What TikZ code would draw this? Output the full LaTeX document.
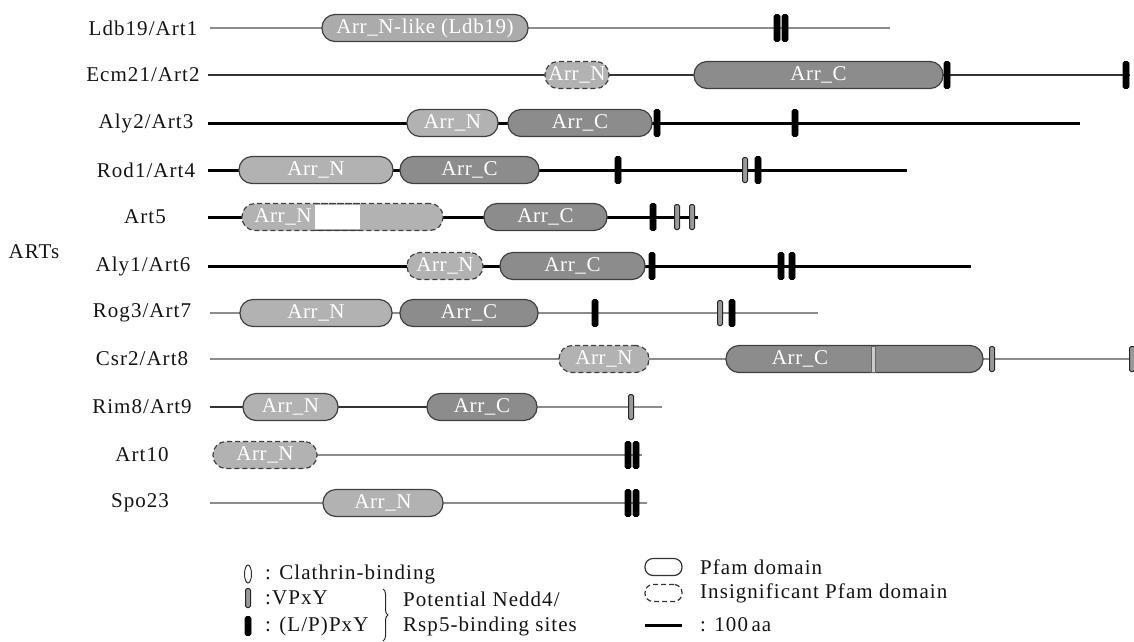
\documentclass[tikz,border=0pt]{standalone}
\usepackage{fontspec}
\setmainfont{Liberation Serif}
\newfontfamily\labfont[LetterSpace=5]{Liberation Serif}
\newfontfamily\domfont[LetterSpace=3]{Liberation Serif}
\usetikzlibrary{decorations.pathreplacing,shapes.geometric}
\begin{document}
\begin{tikzpicture}[x=1pt,y=-1pt,
  lab/.style={font=\labfont\fontsize{21pt}{24pt}\selectfont, text=black!92, inner sep=0pt},
  legtext/.style={lab, anchor=west},
  dom/.style={draw=black!75, line width=1.2pt, rounded corners=13pt, minimum height=27pt, inner sep=0pt, text=white, font=\domfont\fontsize{21pt}{24pt}\selectfont},
  domN/.style={dom, fill=black!30},
  domC/.style={dom, fill=black!45},
  insig/.style={dash pattern=on 5pt off 3pt},
  pxy/.style={draw=black, fill=black, line width=0.6pt, rounded corners=1.5pt, minimum width=6pt, minimum height=27pt, inner sep=0pt},
  vpxy/.style={draw=black!85, fill=black!40, line width=1pt, rounded corners=1.5pt, minimum width=5pt, minimum height=25pt, inner sep=0pt},
  blk/.style={line width=3pt, draw=black},
  med/.style={line width=2.2pt, draw=black!80},
  gry/.style={line width=2pt, draw=black!45},
]
\useasboundingbox (0,0) rectangle (1134,641);

% labels
\node[lab] (l1) at (143,28) {Ldb19/Art1};
\node[lab] (l2) at (143,75) {Ecm21/Art2};
\node[lab] (l3) at (146,123) {Aly2/Art3};
\node[lab] (l4) at (146,170) {Rod1/Art4};
\node[lab] (l5) at (145,217) {Art5};
\node[lab] (l6) at (143,266) {Aly1/Art6};
\node[lab] (l7) at (142,313) {Rog3/Art7};
\node[lab] (l8) at (142,359) {Csr2/Art8};
\node[lab] (l9) at (142,407) {Rim8/Art9};
\node[lab] (l10) at (142,455) {Art10};
\node[lab] (l11) at (140,503) {Spo23};
\node[lab] (arts) at (34,252) {ARTs};

% backbone coordinates
\coordinate (r1s) at (210,28);  \coordinate (r1e) at (890,28);
\coordinate (r2s) at (208,75);  \coordinate (r2e) at (1130,75);
\coordinate (r3s) at (208,123); \coordinate (r3e) at (1080,123);
\coordinate (r4s) at (208,170); \coordinate (r4e) at (907,170);
\coordinate (r5s) at (208,217); \coordinate (r5e) at (698,217);
\coordinate (r6s) at (208,266); \coordinate (r6e) at (971,266);
\coordinate (r7s) at (210,313); \coordinate (r7e) at (818,313);
\coordinate (r8s) at (210,359); \coordinate (r8e) at (1134,359);
\coordinate (r9s) at (210,407); \coordinate (r9m) at (480,407); \coordinate (r9e) at (662,407);
\coordinate (r10s) at (213,455); \coordinate (r10e) at (642,455);
\coordinate (r11s) at (210,503); \coordinate (r11e) at (647,503);

\draw[gry] (r1s) -- (r1e);
\draw[med] (r2s) -- (r2e);
\draw[blk] (r3s) -- (r3e);
\draw[blk] (r4s) -- (r4e);
\draw[blk] (r5s) -- (r5e);
\draw[blk] (r6s) -- (r6e);
\draw[gry] (r7s) -- (r7e);
\draw[gry] (r8s) -- (r8e);
\draw[med] (r9s) -- (r9m);
\draw[gry] (r9m) -- (r9e);
\draw[gry] (r10s) -- (r10e);
\draw[gry] (r11s) -- (r11e);

% row 1
\node[dom, fill=black!33, minimum width=206pt] (d1) at (425,28) {Arr\_N-like (Ldb19)};
\node[pxy] (m1a) at (777,28) {};
\node[pxy] (m1b) at (785,28) {};
% row 2
\node[domN, insig, minimum width=64pt] (d2n) at (577,75) {Arr\_N};
\node[domC, minimum width=249pt] (d2c) at (818.5,75) {Arr\_C};
\node[pxy] (m2a) at (947,75) {};
\node[pxy] (m2b) at (1126,75) {};
% row 3
\node[domN, minimum width=91pt] (d3n) at (452.5,123) {Arr\_N};
\node[domC, minimum width=144pt] (d3c) at (580,123) {Arr\_C};
\node[pxy] (m3a) at (657,123) {};
\node[pxy] (m3b) at (795,123) {};
% row 4
\node[domN, minimum width=154pt] (d4n) at (316,170) {Arr\_N};
\node[domC, minimum width=139pt] (d4c) at (469.5,170) {Arr\_C};
\node[pxy] (m4a) at (618,170) {};
\node[vpxy] (m4b) at (745,170) {};
\node[pxy] (m4c) at (758,170) {};
% row 5
\node[domN, insig, minimum width=201pt] (d5n) at (342.5,217) {};
\fill[white] (315,204.6) rectangle (360,229.4);
\draw[black!75, line width=1.2pt, insig] (315,203.5) -- (360,203.5) (315,230.5) -- (360,230.5);
\node[dom, draw=none, fill=none] (t5n) at (283,217) {Arr\_N};
\node[domC, minimum width=123pt] (d5c) at (545.5,217) {Arr\_C};
\node[pxy] (m5a) at (653,217) {};
\node[vpxy] (m5b) at (677,217) {};
\node[vpxy] (m5c) at (692,217) {};
% row 6
\node[domN, insig, minimum width=76pt] (d6n) at (445,266) {Arr\_N};
\node[domC, minimum width=145pt] (d6c) at (572.5,266) {Arr\_C};
\node[pxy] (m6a) at (652,266) {};
\node[pxy] (m6b) at (781,266) {};
\node[pxy] (m6c) at (792,266) {};
% row 7
\node[domN, minimum width=152pt] (d7n) at (316,313) {Arr\_N};
\node[domC, minimum width=138pt] (d7c) at (469,313) {Arr\_C};
\node[pxy] (m7a) at (595,313) {};
\node[vpxy] (m7b) at (720,313) {};
\node[pxy] (m7c) at (732,313) {};
% row 8
\node[domN, insig, minimum width=90pt] (d8n) at (604,359) {Arr\_N};
\node[domC, minimum width=257pt] (d8c) at (854.5,359) {};
\node[draw=black!60, fill=black!20, line width=0.6pt, minimum width=4pt, minimum height=26pt, inner sep=0pt] (d8d) at (873,359) {};
\node[dom, draw=none, fill=none] (t8c) at (800,359) {Arr\_C};
\node[vpxy] (m8a) at (992,359) {};
\node[vpxy] (m8b) at (1132,359) {};
% row 9
\node[domN, minimum width=95pt] (d9n) at (290.5,407) {Arr\_N};
\node[domC, minimum width=110pt] (d9c) at (482,407) {Arr\_C};
\node[vpxy] (m9a) at (631,407) {};
% row 10
\node[domN, insig, minimum width=104pt] (d10n) at (265,455) {Arr\_N};
\node[pxy] (m10a) at (628,455) {};
\node[pxy] (m10b) at (636,455) {};
% row 11
\node[domN, minimum width=120pt] (d11n) at (383,503) {Arr\_N};
\node[pxy] (m11a) at (628,503) {};
\node[pxy] (m11b) at (636,503) {};

% legend left
\node[ellipse, draw=black!80, fill=white, line width=1pt, minimum width=7pt, minimum height=18pt, inner sep=0pt] (lcl) at (248,574) {};
\node[vpxy, minimum height=19pt] (lvp) at (248,598) {};
\node[pxy, minimum height=19pt] (llp) at (248,626) {};
\node[legtext] (tcl) at (265,574) {: Clathrin-binding};
\node[legtext] (tvp) at (265,598) {:VPxY};
\node[legtext] (tlp) at (265,626) {: (L/P)PxY};
\coordinate (bra) at (383,589);
\coordinate (brb) at (383,641);
\draw[decorate, decoration={brace, amplitude=5pt}, line width=1pt, black!85] (bra) -- (brb);
\node[legtext] (tn1) at (403,599) {Potential Nedd4/};
\node[legtext] (tn2) at (403,626) {Rsp5-binding sites};

% legend right
\node[draw=black!80, line width=1.2pt, rounded corners=8pt, minimum width=37pt, minimum height=17pt, inner sep=0pt] (lpf) at (663.5,567) {};
\node[draw=black!80, line width=1.2pt, rounded corners=8pt, minimum width=37pt, minimum height=17pt, inner sep=0pt, insig] (lin) at (663.5,593) {};
\coordinate (l100s) at (645,625);
\coordinate (l100e) at (682,625);
\draw[line width=3pt] (l100s) -- (l100e);
\node[legtext] (tpf) at (700,567) {Pfam domain};
\node[legtext] (tin) at (700,593) {Insignificant Pfam domain};
\node[legtext] (t100) at (700,625) {: 100\,aa};
\end{tikzpicture}
\end{document}
